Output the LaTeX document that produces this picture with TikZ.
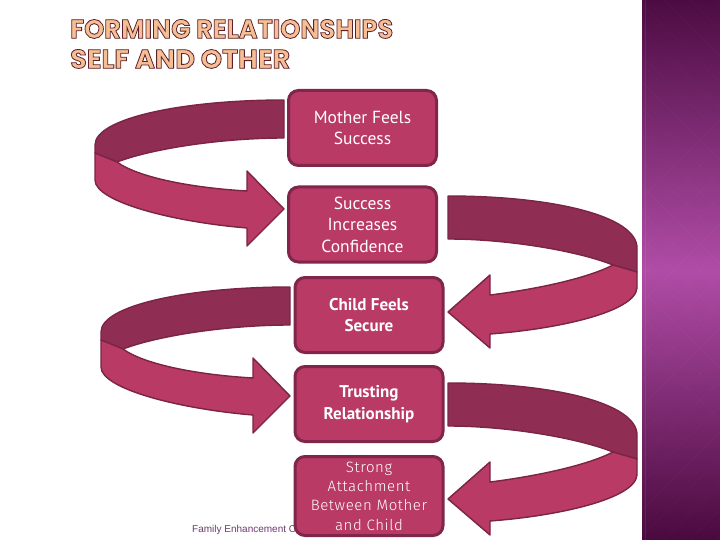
\documentclass[tikz,border=0pt]{standalone}
\usepackage{fontspec}
\setmainfont{PT Sans}
\newfontfamily\titlefont{Poppins}
\newfontfamily\lightfont[LetterSpace=4]{Fira Sans Light}
\newfontfamily\footfont{Liberation Sans}
\usepackage{graphicx}
\definecolor{boxfill}{HTML}{B93A64}
\definecolor{boxline}{HTML}{80264A}
\definecolor{banddark}{HTML}{8F2D53}
\definecolor{bandline}{HTML}{7A2446}
\definecolor{titlefill}{HTML}{F6BE94}
\definecolor{panelTop}{HTML}{4C0C42}
\definecolor{panelMid}{HTML}{B04CA6}
\definecolor{panelBot}{HTML}{4A0A3E}
\definecolor{footcol}{HTML}{6E3A70}
\newcommand\outlinedtext[2]{\resizebox{#1pt}{\height}{\color{titlefill}\special{pdf:literal direct 0.36 0.13 0.17 RG 2 Tr 0.8 w}#2\special{pdf:literal direct 0 Tr}}}
\tikzset{
  stepbox/.style={draw=boxline, line width=3pt, fill=boxfill, rounded corners=10pt,
    minimum width=148pt, minimum height=75pt, inner sep=0pt, text=white, align=center,
    font=\fontsize{17.5}{21.5}\selectfont},
  ribbondark/.style={fill=banddark, draw=bandline, line width=1.4pt, line join=round},
  ribbonlight/.style={fill=boxfill, draw=bandline, line width=1.4pt, line join=round},
  ribbonL/.pic={
    \path[ribbondark] (0,0) .. controls (100,0) and (189,18) .. (189,45) -- (189,53) -- (167,62)
      .. controls (130,48) and (60,38) .. (0,38) -- cycle;
    \path[ribbonlight] (189,53) -- (189,80) .. controls (189,102) and (110,122) .. (37,128)
      -- (37,146) -- (0,109) -- (37,71) -- (37,91) .. controls (90,88) and (145,78) .. (167,62) -- cycle;
  },
  ribbonR/.pic={
    \path[ribbondark] (0,0) .. controls (105,0) and (189,20) .. (189,52) -- (189,76) -- (165,69)
      .. controls (130,55) and (60,43) .. (0,43) -- cycle;
    \path[ribbonlight] (189,76) -- (189,92) .. controls (187,116) and (110,133) .. (42,138)
      -- (42,152) -- (0,116) -- (42,79) -- (42,99) .. controls (90,93) and (140,82) .. (165,69) -- cycle;
  }
}
\begin{document}
\begin{tikzpicture}[x=1pt,y=-1pt]
\useasboundingbox (0,0) rectangle (720,540);
\fill[white] (0,0) rectangle (720,540);
% right panel
\shade[top color=panelTop, bottom color=panelBot, middle color=panelMid] (642,0) rectangle (720,540);
\begin{scope}
  \clip (642,0) rectangle (720,540);
  \foreach \i in {0,...,26} {
    \draw[white, opacity=0.025, line width=0.8pt] (600+\i*26-300,0) -- ++(540,540);
    \draw[white, opacity=0.025, line width=0.8pt] (600+\i*26-300,540) -- ++(540,-540);
  }
\end{scope}
\draw[white, opacity=0.08, line width=1.2pt] (645.5,0) -- (645.5,540);
% title
\node[anchor=base west, inner sep=0pt, font=\titlefont\bfseries\fontsize{26.5}{30}\selectfont] (title1) at (70,38.3) {\outlinedtext{323}{FORMING RELATIONSHIPS}};
\node[anchor=base west, inner sep=0pt, font=\titlefont\bfseries\fontsize{26.5}{30}\selectfont] (title2) at (70,68.3) {\outlinedtext{220}{SELF AND OTHER}};
% footer
\node[anchor=base west, inner sep=0pt, text=footcol, font=\footfont\fontsize{10}{12}\selectfont] (foot) at (192,532) {Family Enhancement C};
% ribbon arrows
\pic[xscale=-1] at (284,100) {ribbonL};
\pic[xscale=-1] at (290,287) {ribbonL};
\pic at (448,196) {ribbonR};
\pic at (448,383) {ribbonR};
% boxes
\node[stepbox] (b1) at (362.5,128) {Mother Feels\\Success};
\node[stepbox] (b2) at (362.5,224.5) {Success\\Increases\\Confidence};
\node[stepbox, font=\bfseries\fontsize{17}{21.5}\selectfont] (b3) at (369,315) {Child Feels\\Secure};
\node[stepbox, font=\bfseries\fontsize{17}{21.5}\selectfont] (b4) at (369,404) {Trusting\\Relationship};
\node[stepbox, minimum height=79pt, font=\lightfont\fontsize{15}{19.3}\selectfont] (b5) at (369,496) {Strong\\Attachment\\Between Mother\\and Child};
\end{tikzpicture}
\end{document}
